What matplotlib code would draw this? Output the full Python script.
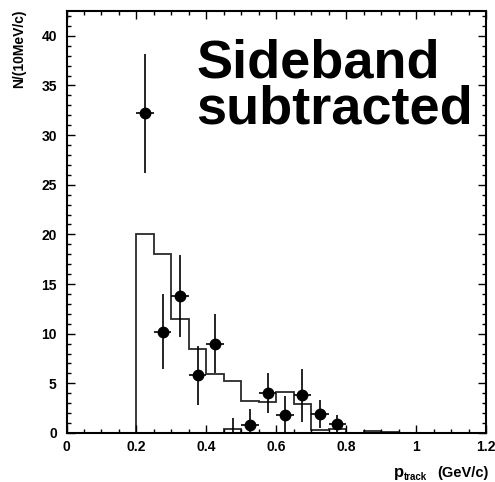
import numpy as np
import matplotlib.pyplot as plt
from matplotlib.ticker import MultipleLocator

plt.rcParams['font.family'] = ['Liberation Sans', 'DejaVu Sans']
plt.rcParams['font.weight'] = 'bold'

# MC expectation, 10 MeV/c bins from 0 to 1.2 GeV/c (0.05 wide)
bin_edges = np.round(np.arange(0.0, 1.2001, 0.05), 3)
mc_counts = [0, 0, 0, 0,
             20.0, 18.0, 11.5, 8.5, 5.9, 5.25, 3.2, 3.1, 4.1, 2.9,
             0.3, 0.45, 0, 0.2, 0.08, 0, 0, 0, 0, 0]
extra_edges = [0.45, 0.5]
extra_counts = [0.37]

# sideband-subtracted data
p_centers = [0.225, 0.275, 0.325, 0.375, 0.425, 0.475, 0.525,
             0.575, 0.625, 0.675, 0.725, 0.775]
n_data = [32.2, 10.2, 13.8, 5.8, 9.0, -0.6, 0.85,
          4.0, 1.85, 3.8, 1.95, 0.95]
n_err = [6.0, 3.8, 4.1, 3.0, 3.0, 2.1, 1.6,
         2.0, 1.9, 2.65, 1.4, 0.85]
half_bin = 0.025

W, H = 495, 482
fig = plt.figure(figsize=(W / 100, H / 100), dpi=100)
ax = fig.add_axes([66.5 / W, 1 - 433 / H, (486 - 66.5) / W, (433 - 11) / H])

ax.stairs(mc_counts, bin_edges, color='#2a2a2a', lw=1.3)
ax.stairs(extra_counts, extra_edges, color='#2a2a2a', lw=1.3)
ax.errorbar(p_centers, n_data, yerr=n_err, xerr=half_bin, fmt='o',
            color='black', ms=7.5, elinewidth=1.2, capsize=0)

ax.set_xlim(0, 1.2)
ax.set_ylim(0, 42.5)
ax.xaxis.set_major_locator(MultipleLocator(0.2))
ax.xaxis.set_minor_locator(MultipleLocator(0.05))
ax.yaxis.set_major_locator(MultipleLocator(5))
ax.yaxis.set_minor_locator(MultipleLocator(1))
ax.xaxis.set_major_formatter(lambda v, pos: '%g' % round(v, 2))
ax.tick_params(which='both', direction='in', top=True, right=True,
               width=1.0, labelsize=10)
ax.tick_params(which='major', length=6)
ax.tick_params(which='minor', length=3)
ax.tick_params(axis='x', pad=5)
ax.tick_params(axis='y', pad=7)
for sp in ax.spines.values():
    sp.set_linewidth(1.5)
for lab in ax.get_xticklabels() + ax.get_yticklabels():
    lab.set_fontweight('bold')

# axis titles
fig.text(19 / W, 1 - 10 / H, 'N/(10MeV/c)', rotation=90, ha='center',
         va='top', fontsize=10, fontweight='bold')
fig.text(394 / W, 1 - 477 / H, 'p', fontsize=12, fontweight='bold',
         ha='left', va='baseline')
fig.text(404 / W, 1 - 480 / H, 'track', fontsize=7, fontweight='bold',
         ha='left', va='baseline')
fig.text(489 / W, 1 - 477 / H, '(GeV/c)', fontsize=10.5, fontweight='bold',
         ha='right', va='baseline')

# label
for txt, base in [('Sideband', 77), ('subtracted', 124)]:
    fig.text(196 / W, 1 - base / H, txt, fontsize=39, fontweight='bold',
             ha='left', va='baseline')

fig.savefig('out.png', dpi=100)
